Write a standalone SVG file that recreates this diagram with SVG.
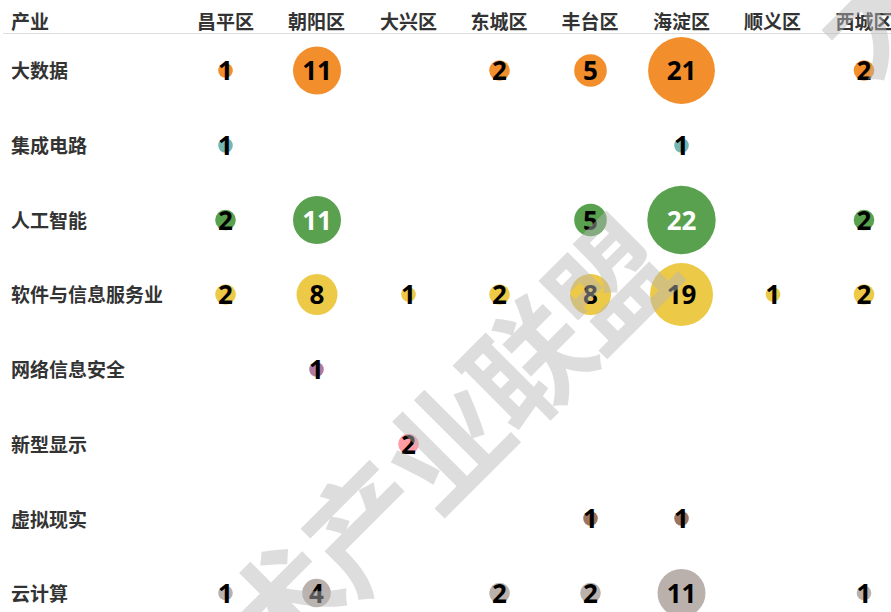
<svg xmlns="http://www.w3.org/2000/svg" width="891" height="612" viewBox="0 0 891 612">
<style>
text{font-family:"Noto Sans CJK SC","Noto Sans",sans-serif;font-weight:700}
.h{font-size:19px;fill:#333;text-anchor:middle}
.l{font-size:19px;fill:#333}
.n{font-family:"Open Sans","Noto Sans",sans-serif;font-size:26px;fill:#000;text-anchor:middle}
.w{fill:#fff}
.o{fill:#f28e2b}.t{fill:#76b7b2}.g{fill:#59a14f}.y{fill:#edc948}.p{fill:#b07aa1}.k{fill:#ff9da7}.b{fill:#9c755f}.s{fill:#bab0ac}
.wm{font-family:"Noto Sans CJK SC",sans-serif;font-size:120px;font-weight:700;fill:#b7b7b7;fill-opacity:.475;letter-spacing:-5px}
</style>
<rect width="891" height="612" fill="#fff"/>
<line x1="3" y1="33.5" x2="891" y2="33.5" stroke="#ddd"/>
<g id="header">
<text class="l" x="11" y="29">产业</text>
<text class="h" x="225.5" y="29">昌平区</text><text class="h" x="316.5" y="29">朝阳区</text><text class="h" x="408.5" y="29">大兴区</text><text class="h" x="499" y="29">东城区</text><text class="h" x="590" y="29">丰台区</text><text class="h" x="681.5" y="29">海淀区</text><text class="h" x="772.5" y="29">顺义区</text><text class="h" x="864" y="29">西城区</text>
</g>
<g id="row-bigdata">
<text class="l" x="11" y="78">大数据</text>
<circle class="o" cx="225.5" cy="70.5" r="7.3"/><text class="n" x="225.5" y="80">1</text>
<circle class="o" cx="317" cy="70.5" r="24"/><text class="n" x="317" y="80">11</text>
<circle class="o" cx="499.5" cy="70.5" r="10.3"/><text class="n" x="499.5" y="80">2</text>
<circle class="o" cx="590.5" cy="70.5" r="16.3"/><text class="n" x="590.5" y="80">5</text>
<circle class="o" cx="681.5" cy="70.5" r="33.4"/><text class="n" x="681.5" y="80">21</text>
<circle class="o" cx="864" cy="70.5" r="10.3"/><text class="n" x="864" y="80">2</text>
</g>
<g id="row-ic">
<text class="l" x="11" y="153">集成电路</text>
<circle class="t" cx="225.5" cy="145.5" r="7.3"/><text class="n" x="225.5" y="155">1</text>
<circle class="t" cx="681.5" cy="145.5" r="7.3"/><text class="n" x="681.5" y="155">1</text>
</g>
<g id="row-ai">
<text class="l" x="11" y="228">人工智能</text>
<circle class="g" cx="225.5" cy="220" r="10.3"/><text class="n" x="225.5" y="229.5">2</text>
<circle class="g" cx="317" cy="220" r="24"/><text class="n w" x="317" y="229.5">11</text>
<circle class="g" cx="590.5" cy="220" r="16.3"/><text class="n" x="590.5" y="229.5">5</text>
<circle class="g" cx="681.5" cy="220" r="34.2"/><text class="n w" x="681.5" y="229.5">22</text>
<circle class="g" cx="864" cy="220" r="10.3"/><text class="n" x="864" y="229.5">2</text>
</g>
<g id="row-software">
<text class="l" x="11" y="302">软件与信息服务业</text>
<circle class="y" cx="225.5" cy="294.5" r="10.3"/><text class="n" x="225.5" y="304">2</text>
<circle class="y" cx="317" cy="294.5" r="20.5"/><text class="n" x="317" y="304">8</text>
<circle class="y" cx="408.5" cy="294.5" r="7.3"/><text class="n" x="408.5" y="304">1</text>
<circle class="y" cx="499.5" cy="294.5" r="10.3"/><text class="n" x="499.5" y="304">2</text>
<circle class="y" cx="590.5" cy="294.5" r="20.5"/><text class="n" x="590.5" y="304">8</text>
<circle class="y" cx="681.5" cy="294.5" r="31.5"/><text class="n" x="681.5" y="304">19</text>
<circle class="y" cx="773" cy="294.5" r="7.3"/><text class="n" x="773" y="304">1</text>
<circle class="y" cx="864" cy="294.5" r="10.3"/><text class="n" x="864" y="304">2</text>
</g>
<g id="row-security">
<text class="l" x="11" y="377">网络信息安全</text>
<circle class="p" cx="316.5" cy="369.5" r="7.3"/><text class="n" x="316.5" y="379">1</text>
</g>
<g id="row-display">
<text class="l" x="11" y="452">新型显示</text>
<circle class="k" cx="408.5" cy="444" r="10.3"/><text class="n" x="408.5" y="453.5">2</text>
</g>
<g id="row-vr">
<text class="l" x="11" y="527">虚拟现实</text>
<circle class="b" cx="590.5" cy="518.5" r="7.3"/><text class="n" x="590.5" y="528">1</text>
<circle class="b" cx="681.5" cy="518.5" r="7.3"/><text class="n" x="681.5" y="528">1</text>
</g>
<g id="row-cloud">
<text class="l" x="11" y="601">云计算</text>
<circle class="s" cx="225.5" cy="593" r="7.3"/><text class="n" x="225.5" y="602.5">1</text>
<circle class="s" cx="316.5" cy="593" r="14.3"/><text class="n" x="316.5" y="602.5">4</text>
<circle class="s" cx="499.5" cy="593" r="10.3"/><text class="n" x="499.5" y="602.5">2</text>
<circle class="s" cx="590.5" cy="593" r="10.3"/><text class="n" x="590.5" y="602.5">2</text>
<circle class="s" cx="681.5" cy="593" r="24"/><text class="n" x="681.5" y="602.5">11</text>
<circle class="s" cx="864" cy="593" r="7.3"/><text class="n" x="864" y="602.5">1</text>
</g>
<g id="watermark">
<text class="wm" transform="translate(274 682) rotate(-45)">术产业联盟</text>
<text class="wm" transform="translate(866 84) rotate(-45)">大</text>
</g>
</svg>
